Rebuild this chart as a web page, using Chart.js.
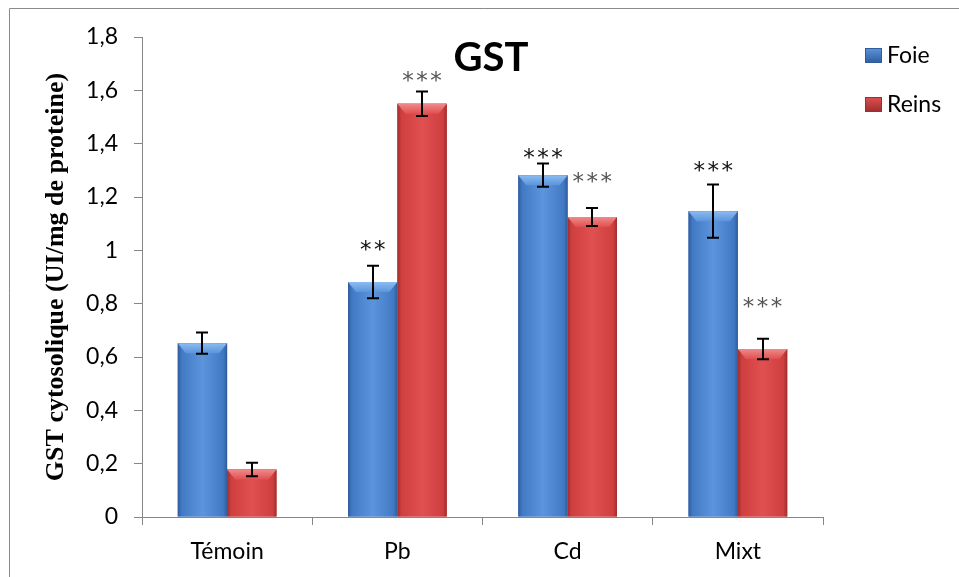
<!DOCTYPE html>
<html>
<head>
<meta charset="utf-8">
<script src="https://cdn.jsdelivr.net/npm/chart.js@4/dist/chart.umd.min.js"></script>
<style>
html,body{margin:0;padding:0;background:#fff;}
#wrap{position:relative;width:959px;height:577px;}
canvas{display:block;}
</style>
</head>
<body>
<div id="wrap"><canvas id="c" width="959" height="577"></canvas></div>
<script>
// ---- data ----
const categories = ['Témoin', 'Pb', 'Cd', 'Mixt'];
const foie = [0.652, 0.881, 1.282, 1.147];
const reins = [0.178, 1.550, 1.125, 0.630];
const foieErr = [0.040, 0.061, 0.044, 0.100];
const reinsErr = [0.025, 0.046, 0.034, 0.038];
const foieSig = ['', '**', '***', '***'];
const reinsSig = ['', '***', '***', '***'];
const foieSigAt = [null, 1.017, 1.360, 1.311];
const reinsSigAt = [null, 1.649, 1.270, 0.803];
const yTicks = [0, 0.2, 0.4, 0.6, 0.8, 1, 1.2, 1.4, 1.6, 1.8];

const UI = 'Lato, "Open Sans", sans-serif';
const AX = '#868686';

const palette = {
  Foie: {base: '#4279c4', dark: '#2f5c9c', light: '#5c95dc', bevel: '#8cbcf0'},
  Reins: {base: '#cf3f3f', dark: '#a02d2d', light: '#e05050', bevel: '#f08a8a'}
};

const framePlugin = {
  id: 'frame',
  beforeDraw(chart) {
    const c = chart.ctx;
    c.save();
    c.fillStyle = '#fff';
    c.fillRect(0, 0, chart.width, chart.height);
    c.strokeStyle = '#8a8a8a';
    c.lineWidth = 1;
    c.beginPath();
    c.moveTo(9.5, 580);
    c.lineTo(9.5, 8.5);
    c.lineTo(980, 8.5);
    c.stroke();
    c.restore();
  }
};

const shadePlugin = {
  id: 'shade',
  afterDatasetDraw(chart, args) {
    const ds = chart.data.datasets[args.index];
    const p = palette[ds.label];
    const meta = args.meta;
    const c = chart.ctx;
    c.save();
    meta.data.forEach(bar => {
      const x0 = bar.x - bar.width / 2, x1 = bar.x + bar.width / 2;
      const top = bar.y, base = bar.base;
      const g = c.createLinearGradient(x0, 0, x1, 0);
      g.addColorStop(0, p.dark);
      g.addColorStop(0.08, p.base);
      g.addColorStop(0.5, p.light);
      g.addColorStop(0.92, p.base);
      g.addColorStop(1, p.dark);
      c.fillStyle = g;
      c.fillRect(x0, top, x1 - x0, base - top);
      const bh = Math.min(10, (base - top) / 2);
      const gb = c.createLinearGradient(0, top, 0, top + bh);
      gb.addColorStop(0, p.bevel);
      gb.addColorStop(1, p.light);
      c.fillStyle = gb;
      c.beginPath();
      c.moveTo(x0, top);
      c.lineTo(x1, top);
      c.lineTo(x1 - 8, top + bh);
      c.lineTo(x0 + 8, top + bh);
      c.closePath();
      c.fill();
    });
    c.restore();
  }
};

const errPlugin = {
  id: 'errbars',
  afterDatasetsDraw(chart) {
    const c = chart.ctx;
    const ys = chart.scales.y;
    c.save();
    c.strokeStyle = '#000';
    c.lineWidth = 2;
    chart.data.datasets.forEach((ds, di) => {
      const meta = chart.getDatasetMeta(di);
      meta.data.forEach((bar, i) => {
        const v = ds.data[i], e = ds.errors[i];
        const yt = ys.getPixelForValue(v + e), yb = ys.getPixelForValue(v - e);
        const x = Math.round(bar.x);
        c.beginPath();
        c.moveTo(x, yt); c.lineTo(x, yb);
        c.moveTo(x - 6, yt); c.lineTo(x + 6, yt);
        c.moveTo(x - 6, yb); c.lineTo(x + 6, yb);
        c.stroke();
      });
      c.fillStyle = ds.sigColor;
      c.font = '23px "DejaVu Sans", sans-serif';
      c.textAlign = 'center';
      c.textBaseline = 'middle';
      meta.data.forEach((bar, i) => {
        const s = ds.sig[i];
        if (!s) return;
        const y = ys.getPixelForValue(ds.sigAt[i]) + 5;
        const n = s.length, sp = 14;
        for (let k = 0; k < n; k++) {
          c.fillText('*', bar.x + (k - (n - 1) / 2) * sp, y);
        }
      });
    });
    c.restore();
  }
};

const decoPlugin = {
  id: 'deco',
  afterDraw(chart) {
    const c = chart.ctx;
    c.save();
    c.fillStyle = '#000';
    c.font = 'bold 40px ' + UI;
    c.textAlign = 'center';
    c.textBaseline = 'middle';
    c.fillText('GST', 491, 58);
    c.font = '23px ' + UI;
    c.textAlign = 'left';
    chart.data.datasets.forEach((ds, i) => {
      const p = palette[ds.label];
      const y = 48 + i * 49;
      const g = c.createLinearGradient(0, y, 0, y + 15);
      g.addColorStop(0, p.light);
      g.addColorStop(1, p.dark);
      c.fillStyle = g;
      c.fillRect(865, y, 17, 15);
      c.strokeStyle = p.dark;
      c.lineWidth = 1;
      c.strokeRect(865.5, y + 0.5, 16, 14);
      c.fillStyle = '#000';
      c.fillText(ds.label, 887, y + 8);
    });
    c.restore();
  }
};

new Chart(document.getElementById('c'), {
  type: 'bar',
  data: {
    labels: categories,
    datasets: [
      {label: 'Foie', data: foie, errors: foieErr, sig: foieSig, sigAt: foieSigAt, sigColor: '#111',
       backgroundColor: palette.Foie.base, borderWidth: 0},
      {label: 'Reins', data: reins, errors: reinsErr, sig: reinsSig, sigAt: reinsSigAt, sigColor: '#555',
       backgroundColor: palette.Reins.base, borderWidth: 0}
    ]
  },
  options: {
    responsive: false,
    animation: false,
    devicePixelRatio: 1,
    layout: {padding: {left: 0, top: 37, right: 136, bottom: 0}},
    datasets: {bar: {categoryPercentage: 0.58, barPercentage: 1.0}},
    plugins: {legend: {display: false}, tooltip: {enabled: false}, title: {display: false}},
    scales: {
      x: {
        grid: {display: true, drawOnChartArea: false, drawTicks: true, tickLength: 8, color: AX, offset: true, lineWidth: 1},
        border: {display: true, color: AX, width: 1},
        ticks: {color: '#000', font: {family: UI, size: 23}, padding: 13},
        afterFit(s) { s.height = 60; }
      },
      y: {
        min: 0, max: 1.8,
        afterBuildTicks(s) { s.ticks = yTicks.map(v => ({value: v})); },
        grid: {display: true, drawOnChartArea: false, drawTicks: true, tickLength: 8, color: AX, lineWidth: 1},
        border: {display: true, color: AX, width: 1},
        ticks: {color: '#000', font: {family: UI, size: 23}, padding: 16,
          callback: v => String(v).replace('.', ',')},
        title: {display: true, text: 'GST cytosolique (UI/mg de proteine)', color: '#000',
          font: {family: '"Liberation Serif", "Times New Roman", serif', size: 26, weight: 'bold'},
          padding: {top: 41, bottom: 0}},
        afterFit(s) { s.width = 142; }
      }
    }
  },
  plugins: [framePlugin, shadePlugin, errPlugin, decoPlugin]
});
</script>
</body>
</html>
